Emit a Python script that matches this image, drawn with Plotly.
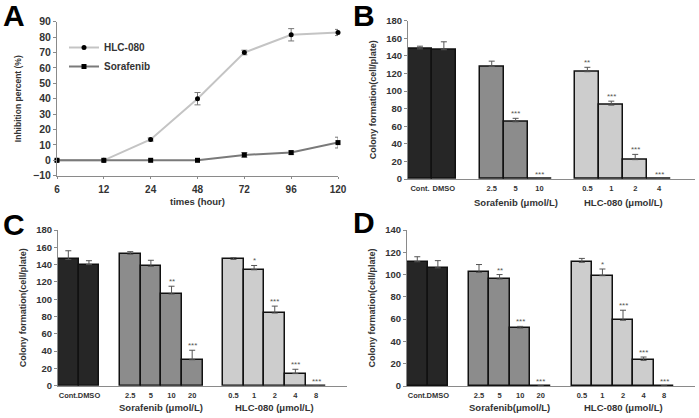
import plotly.graph_objects as go

# ---- Panel A: inhibition time course ----
times = ["6", "12", "24", "48", "72", "96", "120"]
hlc_inhib = [0, 0, 13.5, 40, 70, 81.5, 83]
hlc_inhib_err = [0, 0, 1, 4, 1.5, 4, 2]
sor_inhib = [0, 0, 0, 0, 3.5, 5, 11.5]
sor_inhib_err = [0, 0, 0, 0, 1.5, 1, 3.5]

# ---- Panel B ----
b_ctrl_labels = ["Cont.", "DMSO"]
b_ctrl = [148, 147]
b_ctrl_err = [3, 9]
b_sor_labels = ["2.5", "5", "10"]
b_sor = [128, 65, 0]
b_sor_err = [6, 4, 0]
b_sor_sig = ["", "***", "***"]
b_hlc_labels = ["0.5", "1", "2", "4"]
b_hlc = [122, 84, 22, 0]
b_hlc_err = [5, 4.5, 6, 0]
b_hlc_sig = ["**", "***", "***", "***"]

# ---- Panel C ----
c_ctrl_labels = ["Cont.", "DMSO"]
c_ctrl = [146, 140]
c_ctrl_err = [10, 4.5]
c_sor_labels = ["2.5", "5", "10", "20"]
c_sor = [152, 138, 106, 30]
c_sor_err = [3, 7, 9, 11]
c_sor_sig = ["", "", "**", "***"]
c_hlc_labels = ["0.5", "1", "2", "4", "8"]
c_hlc = [146, 134, 84, 14, 0]
c_hlc_err = [2, 5, 8, 5, 0]
c_hlc_sig = ["", "*", "***", "***", "***"]

# ---- Panel D ----
d_ctrl_labels = ["Cont.", "DMSO"]
d_ctrl = [111.5, 106]
d_ctrl_err = [4.5, 6.5]
d_sor_labels = ["2.5", "5", "10", "20"]
d_sor = [102, 96, 52, 0]
d_sor_err = [7, 4, 1.5, 0]
d_sor_sig = ["", "**", "***", "***"]
d_hlc_labels = ["0.5", "1", "2", "4", "8"]
d_hlc = [111, 99, 59, 23, 0]
d_hlc_err = [3.5, 6, 9, 3, 0]
d_hlc_sig = ["", "*", "***", "***", "***"]

W, H = 699, 418
FONT = "Arial, Liberation Sans, sans-serif"
TXT = "#333333"
AXC = "#8a8a8a"
COLORS = ["#262626", "#8c8c8c", "#cdcdcd"]


def px_x(p):
    return p / W


def px_y(p):
    return 1 - p / H


fig = go.Figure()

# Panel A traces
fig.add_trace(go.Scatter(
    x=times, y=hlc_inhib, name="HLC-080", mode="lines+markers",
    line=dict(color="#c4c4c4", width=2),
    marker=dict(color="black", size=5, symbol="circle"),
    error_y=dict(type="data", array=hlc_inhib_err, color="#777", thickness=1, width=3),
    cliponaxis=False, xaxis="x", yaxis="y"))
fig.add_trace(go.Scatter(
    x=times, y=sor_inhib, name="Sorafenib", mode="lines+markers",
    line=dict(color="#7a7a7a", width=2),
    marker=dict(color="black", size=5, symbol="square"),
    error_y=dict(type="data", array=sor_inhib_err, color="#777", thickness=1, width=3),
    cliponaxis=False, xaxis="x", yaxis="y"))

annotations = []


def add_bar_panel(ax, groups):
    """groups: list of (labels, values, errs, sig); one empty slot between groups"""
    xa = "x" + ax
    ya = "y" + ax
    pos = 0
    tickvals, ticktext = [], []
    centers = []
    for gi, (labels, vals, errs, sig) in enumerate(groups):
        xs = list(range(pos, pos + len(labels)))
        fig.add_trace(go.Bar(
            x=xs, y=vals, width=1, showlegend=False,
            marker=dict(color=COLORS[gi], line=dict(color="#111", width=1.5)),
            error_y=dict(type="data", array=errs, arrayminus=[0] * len(errs),
                         symmetric=False, color="#555", thickness=1, width=3),
            xaxis=xa, yaxis=ya))
        tickvals += xs
        ticktext += labels
        centers.append((xs[0] + xs[-1]) / 2)
        for x, v, e, s in zip(xs, vals, errs, sig):
            if s:
                annotations.append(dict(
                    x=x, y=v + e, xref=xa, yref=ya, text=s, showarrow=False,
                    yanchor="bottom", yshift=-2,
                    font=dict(size=8, color="#555", family=FONT)))
        pos = xs[-1] + 2
    return tickvals, ticktext, centers, pos - 1


b_groups = [(b_ctrl_labels, b_ctrl, b_ctrl_err, ["", ""]),
            (b_sor_labels, b_sor, b_sor_err, b_sor_sig),
            (b_hlc_labels, b_hlc, b_hlc_err, b_hlc_sig)]
c_groups = [(c_ctrl_labels, c_ctrl, c_ctrl_err, ["", ""]),
            (c_sor_labels, c_sor, c_sor_err, c_sor_sig),
            (c_hlc_labels, c_hlc, c_hlc_err, c_hlc_sig)]
d_groups = [(d_ctrl_labels, d_ctrl, d_ctrl_err, ["", ""]),
            (d_sor_labels, d_sor, d_sor_err, d_sor_sig),
            (d_hlc_labels, d_hlc, d_hlc_err, d_hlc_sig)]

bold = dict(color=TXT, family=FONT, weight="bold")

yax_common = dict(showline=True, linecolor=AXC, linewidth=1, ticks="outside",
                  ticklen=3, tickcolor=AXC, showgrid=False, zeroline=False,
                  automargin=False, tickfont=dict(bold, size=9.5),
                  title_font=dict(bold, size=9))
xax_bar = dict(showline=True, linecolor=AXC, linewidth=1, ticks="", showgrid=False,
               zeroline=False, automargin=False, tickfont=dict(bold, size=7.5),
               tickangle=0, ticklabelstandoff=2)

layout_axes = {}
for ax, groups, titles, xdom, ydom, ymax, glab_y in [
        ("2", b_groups, ["Sorafenib (μmol/L)", "HLC-080 (μmol/L)"],
         [px_x(408), px_x(695)], [px_y(179), px_y(20.7)], 180, 202),
        ("3", c_groups, ["Sorafenib (μmol/L)", "HLC-080 (μmol/L)"],
         [px_x(58), px_x(347)], [px_y(385.7), px_y(230)], 180, 407.5),
        ("4", d_groups, ["Sorafenib(μmol/L)", "HLC-080 (μmol/L)"],
         [px_x(407), px_x(695)], [px_y(386), px_y(230)], 140, 407.5)]:
    tv, tt, centers, last = add_bar_panel(ax, groups)
    layout_axes["xaxis" + ax] = dict(xax_bar, domain=xdom, range=[-0.5, last + 0.5],
                                     tickvals=tv, ticktext=tt, anchor="y" + ax)
    layout_axes["yaxis" + ax] = dict(yax_common, domain=ydom, range=[0, ymax], dtick=20,
                                     anchor="x" + ax,
                                     title=dict(text="Colony formation(cell/plate)", standoff=8))
    for c, t in zip(centers[1:], titles):
        annotations.append(dict(x=c, y=px_y(glab_y), xref="x" + ax, yref="paper",
                                text=t, showarrow=False, yanchor="middle",
                                font=dict(bold, size=9.5)))

# panel letters
for letter, x, y in [("A", 14, 15), ("B", 364, 15), ("C", 14, 224), ("D", 364, 223)]:
    annotations.append(dict(x=px_x(x), y=px_y(y), xref="paper", yref="paper",
                            text=letter, showarrow=False, xanchor="center", yanchor="middle",
                            font=dict(size=30, color="black", family=FONT, weight="bold")))

fig.update_layout(
    width=W, height=H,
    margin=dict(l=0, r=0, t=0, b=0, autoexpand=False),
    paper_bgcolor="white", plot_bgcolor="white",
    font=dict(family=FONT, color=TXT),
    bargap=0,
    xaxis=dict(domain=[px_x(57), px_x(338)], type="category", range=[0, 6],
               showline=True, linecolor=AXC, ticks="outside", ticklen=2, tickcolor=AXC,
               showgrid=False, zeroline=False, automargin=False,
               tickfont=dict(bold, size=10), ticklabelstandoff=2,
               title=dict(text="times (hour)", font=dict(bold, size=9.5), standoff=4),
               anchor="y"),
    yaxis=dict(yax_common, domain=[px_y(175.7), px_y(21.7)], range=[-10, 90], dtick=10,
               anchor="x", tickfont=dict(bold, size=10.5), title_font=dict(bold, size=8.5),
               title=dict(text="Inhibition percent (%)", standoff=10)),
    legend=dict(x=px_x(64), y=px_y(33), xanchor="left", yanchor="top",
                bgcolor="rgba(0,0,0,0)", font=dict(bold, size=10),
                itemwidth=30, tracegroupgap=0),
    annotations=annotations,
    **layout_axes,
)

# drop the browser's default body margin so the figure sits at the page origin
fig.write_html("out.html", config={"displayModeBar": False},
               post_script="document.body.style.margin='0';")
